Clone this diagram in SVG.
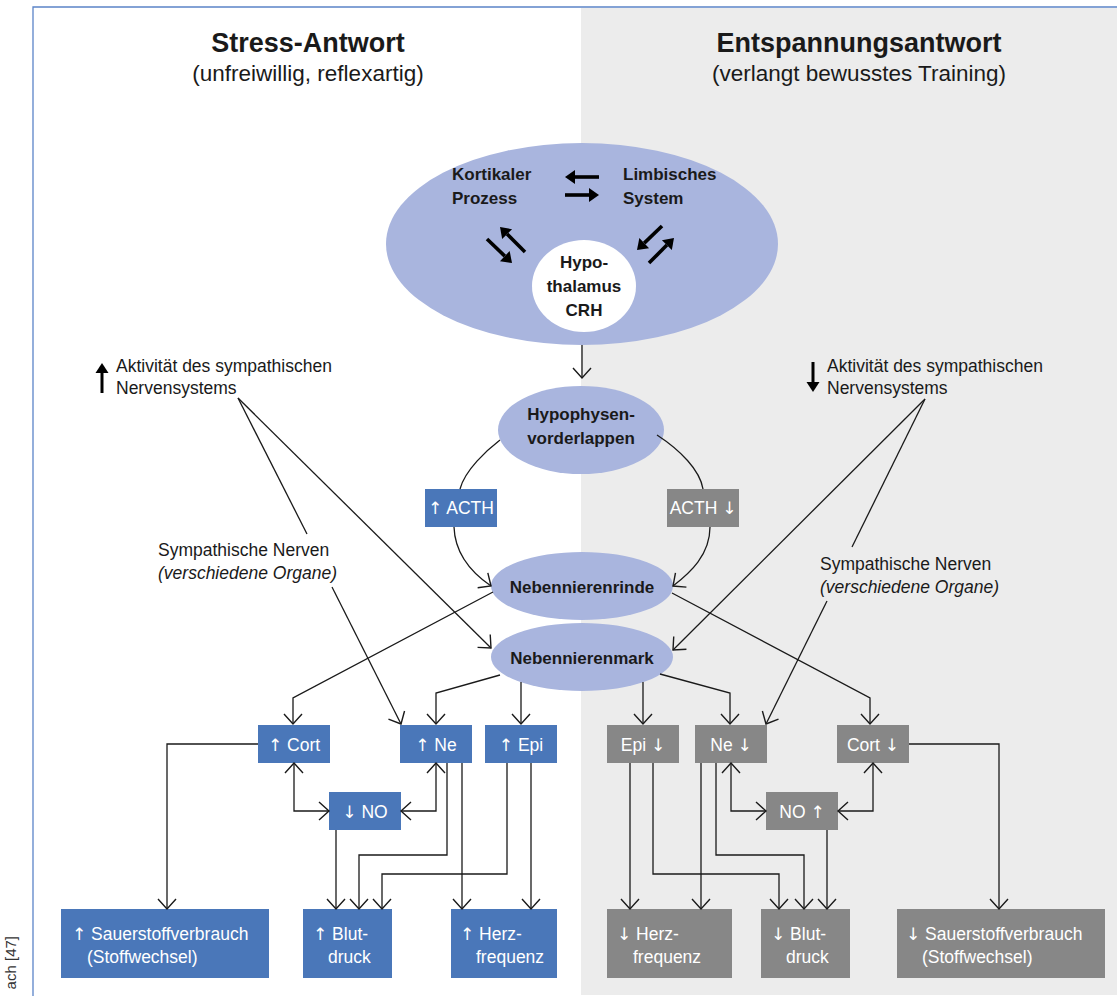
<svg xmlns="http://www.w3.org/2000/svg" width="1117" height="996" viewBox="0 0 1117 996">
<defs>
<style>
text{font-family:'Liberation Sans',Arial,sans-serif;fill:#1a1a1a}
.t{font-size:27px;font-weight:bold;text-anchor:middle}
.st{font-size:22.5px;text-anchor:middle}
.b{font-size:17px;font-weight:bold}
.bc{font-size:17px;font-weight:bold;text-anchor:middle}
.r{font-size:17.5px}
.i{font-size:17.5px;font-style:italic}
.w{font-size:17.5px;fill:#ffffff}
.wc{font-size:17.5px;fill:#ffffff;text-anchor:middle}
.ar{font-family:'DejaVu Sans',sans-serif;font-size:17px}
.ell{fill:#a9b5de}
.bb{fill:#4a77b9}
.gb{fill:#878787}
.c{fill:none;stroke:#1a1a1a;stroke-width:1.3}
.th{fill:none;stroke:#000;stroke-width:3.6}
.th2{fill:none;stroke:#000;stroke-width:3}
</style>
<marker id="ah" viewBox="-12 -12 24 24" refX="0" refY="0" markerWidth="24" markerHeight="24" markerUnits="userSpaceOnUse" orient="auto-start-reverse" overflow="visible">
<path d="M-10,-9 L0,0 L-10,9" fill="none" stroke="#1a1a1a" stroke-width="1.4"/>
</marker>
<marker id="tk" viewBox="-2 -10 14 20" refX="0" refY="0" markerWidth="14" markerHeight="20" markerUnits="userSpaceOnUse" orient="auto" overflow="visible">
<path d="M0,-7 L10,0 L0,7 Z" fill="#000"/>
</marker>
<marker id="tk2" viewBox="-2 -10 14 20" refX="0" refY="0" markerWidth="14" markerHeight="20" markerUnits="userSpaceOnUse" orient="auto" overflow="visible">
<path d="M0,-6.5 L10,0 L0,6.5 Z" fill="#000"/>
</marker>
</defs>

<rect x="0" y="0" width="1117" height="996" fill="#ffffff"/>
<rect x="581" y="8" width="536" height="987" fill="#ececec"/>
<path d="M33,996 L33,7 L1117,7" fill="none" stroke="#5b84c8" stroke-width="1.3"/>
<text x="16" y="936" transform="rotate(-90 16 936)" font-size="15" text-anchor="end" style="fill:#333">ach [47]</text>

<g id="titles">
<text class="t" x="308" y="52">Stress-Antwort</text>
<text class="st" x="308" y="81">(unfreiwillig, reflexartig)</text>
<text class="t" x="859" y="52">Entspannungsantwort</text>
<text class="st" x="859" y="81">(verlangt bewusstes Training)</text>
</g>

<g id="gehirn">
<ellipse class="ell" cx="582" cy="244" rx="196" ry="101"/>
<text class="b" x="452" y="180">Kortikaler</text>
<text class="b" x="452" y="204">Prozess</text>
<text class="b" x="623" y="180">Limbisches</text>
<text class="b" x="623" y="204">System</text>
<line class="th" x1="599" y1="177" x2="575" y2="177" marker-end="url(#tk)"/>
<line class="th" x1="565" y1="195" x2="589" y2="195" marker-end="url(#tk)"/>
<line class="th" x1="525" y1="252" x2="507.1" y2="234.1" marker-end="url(#tk)"/>
<line class="th" x1="487" y1="239" x2="504.8" y2="256.1" marker-end="url(#tk)"/>
<line class="th" x1="662" y1="226" x2="644.2" y2="243.1" marker-end="url(#tk)"/>
<line class="th" x1="649" y1="263" x2="666.9" y2="245.1" marker-end="url(#tk)"/>
</g>

<g id="hypothalamus">
<ellipse cx="584" cy="286" rx="52" ry="46" fill="#ffffff"/>
<text class="bc" x="584" y="268">Hypo-</text>
<text class="bc" x="584" y="292">thalamus</text>
<text class="bc" x="584" y="316">CRH</text>
</g>

<g id="hypophyse">
<ellipse class="ell" cx="581" cy="430" rx="83" ry="44"/>
<text class="bc" x="581" y="420">Hypophysen-</text>
<text class="bc" x="581" y="444">vorderlappen</text>
</g>

<g id="acth-up">
<rect class="bb" x="425" y="489" width="72" height="38"/>
<text class="wc" x="461" y="514"><tspan class="ar">↑</tspan> ACTH</text>
</g>
<g id="acth-down">
<rect class="gb" x="667" y="489" width="72" height="38"/>
<text class="wc" x="703" y="514">ACTH <tspan class="ar">↓</tspan></text>
</g>

<g id="rinde">
<ellipse class="ell" cx="582" cy="586" rx="91" ry="34"/>
<text class="bc" x="582" y="593">Nebennierenrinde</text>
</g>
<g id="mark">
<ellipse class="ell" cx="582" cy="657" rx="91" ry="34"/>
<text class="bc" x="582" y="664">Nebennierenmark</text>
</g>

<g id="akt-left">
<line class="th2" x1="102" y1="393" x2="102" y2="373" marker-end="url(#tk2)"/>
<text class="r" x="116" y="372">Aktivität des sympathischen</text>
<text class="r" x="116" y="394">Nervensystems</text>
</g>
<g id="akt-right">
<line class="th2" x1="813" y1="362" x2="813" y2="382" marker-end="url(#tk2)"/>
<text class="r" x="827" y="372">Aktivität des sympathischen</text>
<text class="r" x="827" y="394">Nervensystems</text>
</g>
<g id="nerven-left">
<text class="r" x="158" y="556">Sympathische Nerven</text>
<text class="i" x="158" y="579">(verschiedene Organe)</text>
</g>
<g id="nerven-right">
<text class="r" x="820" y="570">Sympathische Nerven</text>
<text class="i" x="820" y="593">(verschiedene Organe)</text>
</g>

<g id="cort-up"><rect class="bb" x="258" y="725" width="72" height="38"/><text class="wc" x="294" y="751"><tspan class="ar">↑</tspan> Cort</text></g>
<g id="ne-up"><rect class="bb" x="400" y="725" width="72" height="38"/><text class="wc" x="436" y="751"><tspan class="ar">↑</tspan> Ne</text></g>
<g id="epi-up"><rect class="bb" x="485" y="725" width="72" height="38"/><text class="wc" x="521" y="751"><tspan class="ar">↑</tspan> Epi</text></g>
<g id="no-down"><rect class="bb" x="329" y="792" width="72" height="38"/><text class="wc" x="365" y="818"><tspan class="ar">↓</tspan> NO</text></g>

<g id="epi-down"><rect class="gb" x="607" y="725" width="72" height="38"/><text class="wc" x="643" y="751">Epi <tspan class="ar">↓</tspan></text></g>
<g id="ne-down"><rect class="gb" x="695" y="725" width="72" height="38"/><text class="wc" x="731" y="751">Ne <tspan class="ar">↓</tspan></text></g>
<g id="cort-down"><rect class="gb" x="837" y="725" width="72" height="38"/><text class="wc" x="873" y="751">Cort <tspan class="ar">↓</tspan></text></g>
<g id="no-up"><rect class="gb" x="766" y="792" width="72" height="38"/><text class="wc" x="802" y="818">NO <tspan class="ar">↑</tspan></text></g>

<g id="sauer-up"><rect class="bb" x="61" y="909" width="208" height="69"/><text class="w" x="72" y="940"><tspan class="ar">↑</tspan> Sauerstoffverbrauch</text><text class="w" x="87" y="963">(Stoffwechsel)</text></g>
<g id="blut-up"><rect class="bb" x="303" y="909" width="89" height="69"/><text class="w" x="313" y="940"><tspan class="ar">↑</tspan> Blut-</text><text class="w" x="328" y="963">druck</text></g>
<g id="herz-up"><rect class="bb" x="451" y="909" width="106" height="69"/><text class="w" x="460" y="940"><tspan class="ar">↑</tspan> Herz-</text><text class="w" x="476" y="963">frequenz</text></g>

<g id="herz-down"><rect class="gb" x="607" y="909" width="125" height="69"/><text class="w" x="617" y="940"><tspan class="ar">↓</tspan> Herz-</text><text class="w" x="633" y="963">frequenz</text></g>
<g id="blut-down"><rect class="gb" x="761" y="909" width="89" height="69"/><text class="w" x="771" y="940"><tspan class="ar">↓</tspan> Blut-</text><text class="w" x="786" y="963">druck</text></g>
<g id="sauer-down"><rect class="gb" x="897" y="909" width="208" height="69"/><text class="w" x="906" y="940"><tspan class="ar">↓</tspan> Sauerstoffverbrauch</text><text class="w" x="922" y="963">(Stoffwechsel)</text></g>

<g id="connectors">
<path class="c" d="M582,345 L582,378" marker-end="url(#ah)"/>
<path class="c" d="M500,440 C487,450 465,470 460,489"/>
<path class="c" d="M454,527 C455,555 472,573 491,586" marker-end="url(#ah)"/>
<path class="c" d="M657,435 C680,450 700,470 703,489"/>
<path class="c" d="M710,527 C710,555 690,573 673,586" marker-end="url(#ah)"/>
<path class="c" d="M238,398 L307,534"/>
<path class="c" d="M238,398 L491,648" marker-end="url(#ah)"/>
<path class="c" d="M332,587 L401,724" marker-end="url(#ah)"/>
<path class="c" d="M925,399 L852,547"/>
<path class="c" d="M925,399 L673,650" marker-end="url(#ah)"/>
<path class="c" d="M827,601 L766,724" marker-end="url(#ah)"/>
<path class="c" d="M493,592 L293,698 L293,724" marker-end="url(#ah)"/>
<path class="c" d="M672,593 L870,698 L870,724" marker-end="url(#ah)"/>
<path class="c" d="M500,675 L436,693 L436,724" marker-end="url(#ah)"/>
<path class="c" d="M521,682 L521,724" marker-end="url(#ah)"/>
<path class="c" d="M643,682 L643,724" marker-end="url(#ah)"/>
<path class="c" d="M660,674 L730,693 L730,724" marker-end="url(#ah)"/>
<path class="c" d="M294,763 L294,811 L329,811" marker-start="url(#ah)" marker-end="url(#ah)"/>
<path class="c" d="M436,763 L436,811 L401,811" marker-start="url(#ah)" marker-end="url(#ah)"/>
<path class="c" d="M731,763 L731,811 L766,811" marker-start="url(#ah)" marker-end="url(#ah)"/>
<path class="c" d="M873,763 L873,811 L838,811" marker-start="url(#ah)" marker-end="url(#ah)"/>
<path class="c" d="M258,744 L167,744 L167,909" marker-end="url(#ah)"/>
<path class="c" d="M909,744 L999,744 L999,909" marker-end="url(#ah)"/>
<path class="c" d="M336,830 L336,909" marker-end="url(#ah)"/>
<path class="c" d="M447,763 L447,855 L359,855 L359,909" marker-end="url(#ah)"/>
<path class="c" d="M462,763 L462,909" marker-end="url(#ah)"/>
<path class="c" d="M507,763 L507,874 L382,874 L382,909" marker-end="url(#ah)"/>
<path class="c" d="M531,763 L531,909" marker-end="url(#ah)"/>
<path class="c" d="M630,763 L630,909" marker-end="url(#ah)"/>
<path class="c" d="M653,763 L653,874 L779,874 L779,909" marker-end="url(#ah)"/>
<path class="c" d="M701,763 L701,909" marker-end="url(#ah)"/>
<path class="c" d="M716,763 L716,855 L804,855 L804,909" marker-end="url(#ah)"/>
<path class="c" d="M827,830 L827,909" marker-end="url(#ah)"/>
</g>
</svg>
